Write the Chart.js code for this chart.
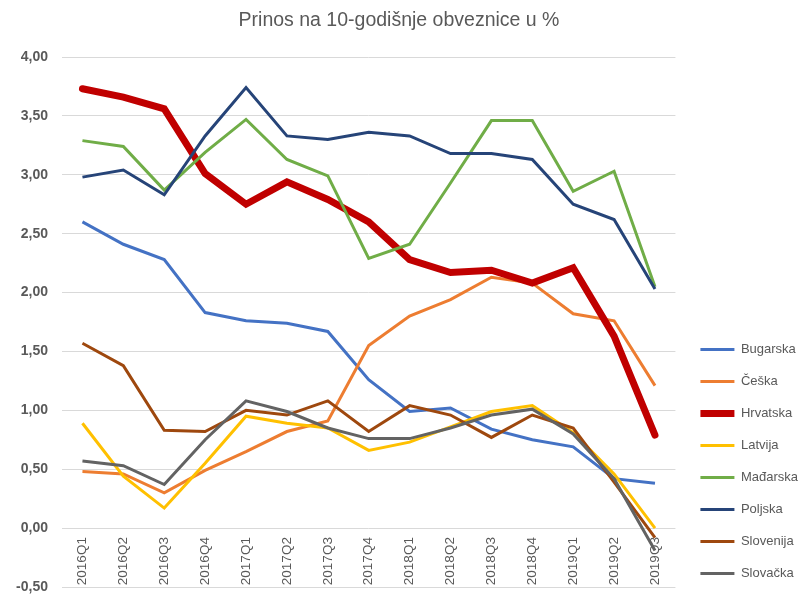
<!DOCTYPE html>
<html>
<head>
<meta charset="utf-8">
<script src="https://cdn.jsdelivr.net/npm/chart.js@4.4.1/dist/chart.umd.min.js"></script>
<style>
  html, body { margin: 0; padding: 0; background: #fff; }
  #wrap { width: 798px; height: 596px; }
</style>
</head>
<body>
<div id="wrap"><canvas id="chart"></canvas></div>
<script>
const quarters = ['2016Q1', '2016Q2', '2016Q3', '2016Q4', '2017Q1', '2017Q2', '2017Q3', '2017Q4',
                  '2018Q1', '2018Q2', '2018Q3', '2018Q4', '2019Q1', '2019Q2', '2019Q3']

const bugarska  = [2.60, 2.41, 2.28, 1.83, 1.76, 1.74, 1.67, 1.26, 0.99, 1.02, 0.84, 0.75, 0.69, 0.42, 0.38]
const ceska     = [0.48, 0.46, 0.30, 0.49, 0.65, 0.82, 0.91, 1.55, 1.80, 1.94, 2.13, 2.08, 1.82, 1.76, 1.21]
const hrvatska  = [3.73, 3.66, 3.56, 3.01, 2.75, 2.94, 2.79, 2.60, 2.28, 2.17, 2.19, 2.08, 2.21, 1.63, 0.79]
const latvija   = [0.89, 0.44, 0.17, 0.55, 0.95, 0.89, 0.85, 0.66, 0.73, 0.86, 0.99, 1.04, 0.81, 0.46, 0.00]
const madarska  = [3.29, 3.24, 2.87, 3.19, 3.47, 3.13, 2.99, 2.29, 2.41, 2.93, 3.46, 3.46, 2.86, 3.03, 2.05]
const poljska   = [2.98, 3.04, 2.83, 3.33, 3.74, 3.33, 3.30, 3.36, 3.33, 3.18, 3.18, 3.13, 2.75, 2.62, 2.03]
const slovenija = [1.57, 1.38, 0.83, 0.82, 1.00, 0.96, 1.08, 0.82, 1.04, 0.96, 0.77, 0.96, 0.85, 0.39, -0.08]
const slovacka  = [0.57, 0.53, 0.37, 0.75, 1.08, 0.99, 0.85, 0.76, 0.76, 0.85, 0.96, 1.01, 0.80, 0.42, -0.19]

const textColor = '#595959'
const fontFamily = "'Liberation Sans', Arial, sans-serif"

function series(label, data, color, width) {
  return {
    label: label,
    data: data,
    borderColor: color,
    backgroundColor: color,
    borderWidth: width || 3,
    borderCapStyle: width ? 'round' : 'butt',
    pointRadius: 0,
    pointHoverRadius: 0,
    tension: 0,
    fill: false
  }
}

const datasets = [
  series('Bugarska', bugarska, '#4472C4'),
  series('Češka', ceska, '#ED7D31'),
  series('Hrvatska', hrvatska, '#C00000', 7),
  series('Latvija', latvija, '#FFC000'),
  series('Mađarska', madarska, '#70AD47'),
  series('Poljska', poljska, '#264478'),
  series('Slovenija', slovenija, '#9E480E'),
  series('Slovačka', slovacka, '#636363')
]
// later series drawn on top, like the spreadsheet
datasets.forEach((ds, i) => { ds.order = datasets.length - i })

new Chart(document.getElementById('chart'), {
  type: 'line',
  data: {
    labels: quarters,
    datasets: datasets
  },
  options: {
    responsive: true,
    maintainAspectRatio: false,
    animation: false,
    layout: {
      padding: { left: -10, right: -10, top: 0, bottom: -3 }
    },
    plugins: {
      title: {
        display: true,
        text: 'Prinos na 10-godišnje obveznice u %',
        color: textColor,
        font: { family: fontFamily, size: 19.5, weight: 'normal' },
        padding: { top: 9, bottom: 24.6 }
      },
      legend: {
        position: 'right',
        align: 'end',
        labels: {
          usePointStyle: true,
          pointStyle: 'line',
          pointStyleWidth: 34,
          padding: 19,
          color: textColor,
          font: { family: fontFamily, size: 13 },
          sort: (a, b) => a.datasetIndex - b.datasetIndex
        }
      },
      tooltip: { enabled: false }
    },
    scales: {
      x: {
        position: { y: 0 },
        offset: true,
        grid: { display: false, drawTicks: false },
        border: { display: false },
        ticks: {
          color: textColor,
          font: { family: fontFamily, size: 13.5 },
          minRotation: 90,
          maxRotation: 90,
          autoSkip: false,
          padding: 9
        }
      },
      // spacer below the plot
      x2: {
        type: 'linear',
        position: 'bottom',
        display: true,
        grid: { display: false, drawTicks: false },
        border: { display: false },
        ticks: { display: false },
        afterFit: (scale) => { scale.height = 12 }
      },
      y: {
        min: -0.5,
        max: 4,
        grid: { color: '#D9D9D9', lineWidth: 1, drawTicks: true, tickLength: 14, tickColor: 'rgba(0,0,0,0)' },
        border: { display: false },
        ticks: {
          stepSize: 0.5,
          color: textColor,
          padding: 0,
          font: { family: fontFamily, size: 14, weight: 'bold' },
          callback: (value) => value.toFixed(2).replace('.', ',')
        },
        afterFit: (scale) => { scale.width = 72 }
      },
      // spacer between plot and legend
      y2: {
        type: 'linear',
        position: 'right',
        display: true,
        grid: { display: false, drawTicks: false },
        border: { display: false },
        ticks: { display: false },
        afterFit: (scale) => { scale.width = 6 }
      }
    }
  }
})
</script>
</body>
</html>
